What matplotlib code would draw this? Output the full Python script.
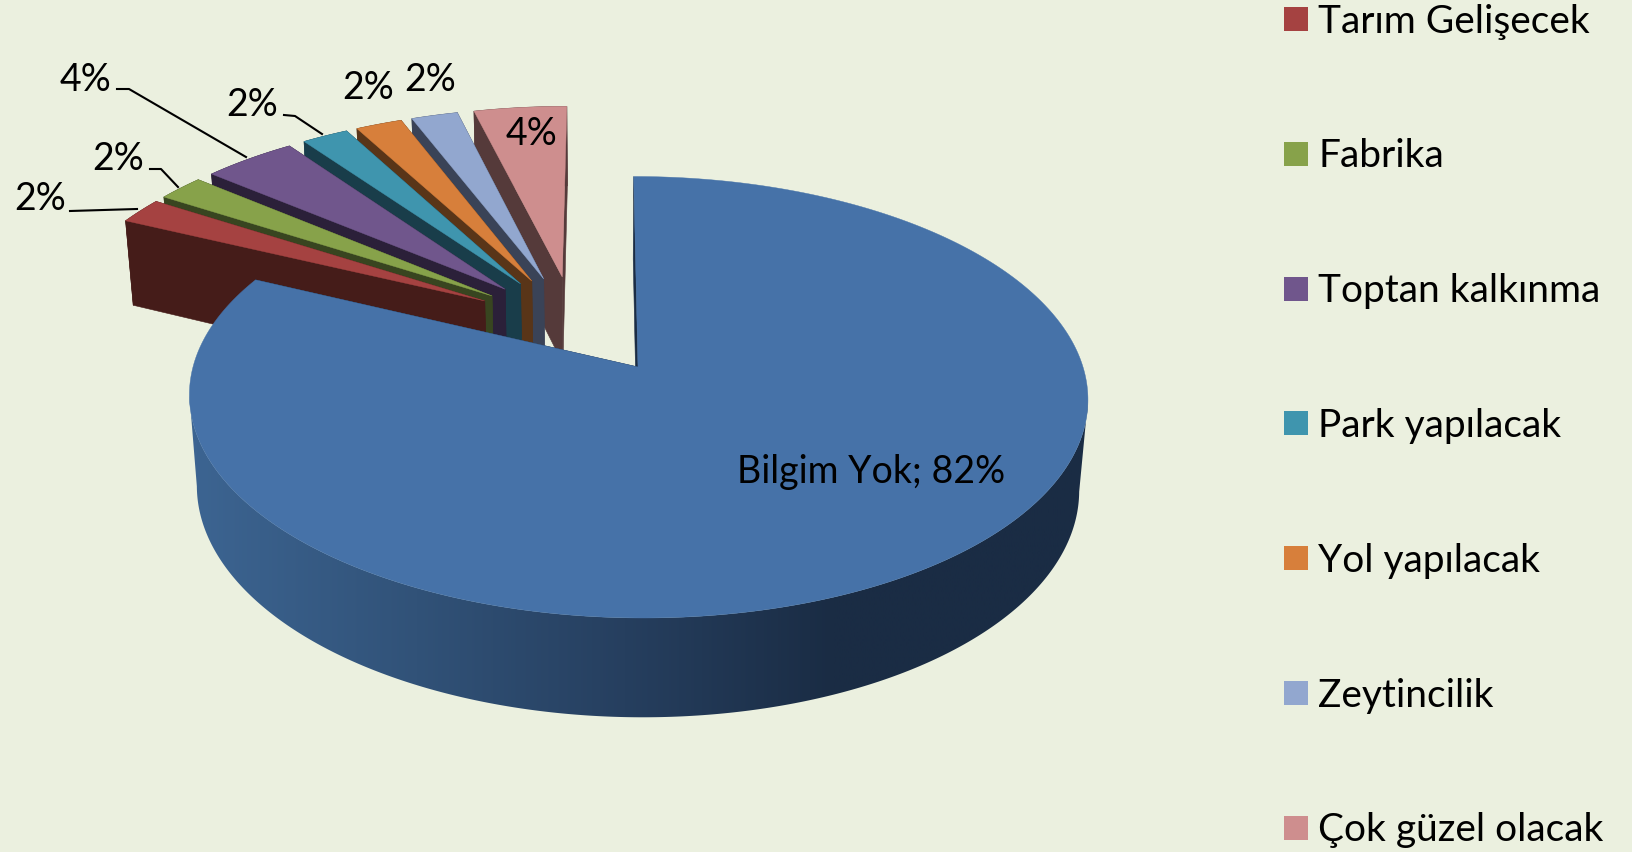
import numpy as np
import matplotlib
matplotlib.use('Agg')
import matplotlib.pyplot as plt
from matplotlib.patches import Rectangle, Polygon

categorias = ['Bilgim Yok', 'Tarım Gelişecek', 'Fabrika', 'Toptan kalkınma', 'Park yapılacak',
              'Yol yapılacak', 'Zeytincilik', 'Çok güzel olacak']
valores = [82, 2, 2, 4, 2, 2, 2, 4]
colores = ['#4672a8', '#a54241', '#87a24a', '#70568c', '#3f95ae', '#d77f3b', '#92a7cf', '#ce8e8e']
colores_pared = ['#1a2c44', '#451c19', '#384520', '#2b2039', '#193d4a', '#593518', '#3a4357', '#553a3a']

fondo = '#ebf0df'
plt.rcParams['font.family'] = ['Lato', 'DejaVu Sans']

# proyeccion en perspectiva: el origen es la punta del sector grande
CX, CY = 638, 367
RX, RY, ALTO, P = 445, 216.6, 92, 0.137
PZ = 0.018  # la base queda mas lejos que la cara superior
X0 = 0.08  # el punto de vista queda a la izquierda de la torta
EXPLOSION = 0.24
AJUSTE_X = -0.017  # los sectores chicos van un poco mas a la izquierda


def proyectar(x, y, z=0.0):
    w = 1 + P * np.asarray(y, dtype=float) + PZ * z
    return CX - X0 * RX + RX * (np.asarray(x) + X0) / w, CY - RY * np.asarray(y) / w + ALTO * z / w


fig = plt.figure(figsize=(16.32, 8.52), dpi=100, facecolor=fondo)
ax = fig.add_axes([0, 0, 1, 1])

fracciones = np.array(valores) / sum(valores)
inicios = np.concatenate([[0], np.cumsum(fracciones)[:-1]]) * 2 * np.pi
fines = np.cumsum(fracciones) * 2 * np.pi
medios = (inicios + fines) / 2

# centro real de la torta, todos los sectores salen de aqui
cx0 = -EXPLOSION * np.sin(medios[0])
cy0 = -EXPLOSION * np.cos(medios[0])

# degradado de la pared del sector grande
gx = np.linspace(180, 1100, 400)
tramos_x = [198, 416, 625, 833, 1083]
degradado = np.dstack([np.interp(gx, tramos_x, [60, 49, 38, 26, 26]),
                       np.interp(gx, tramos_x, [100, 82, 63, 44, 44]),
                       np.interp(gx, tramos_x, [145, 120, 95, 68, 68])]) / 255

orden = [7, 6, 5, 4, 3, 2, 1, 0]  # de atras hacia adelante
capa = 1
for i in orden:
    ox = cx0 + EXPLOSION * np.sin(medios[i])
    oy = cy0 + EXPLOSION * np.cos(medios[i])
    if i > 0:
        ox += AJUSTE_X
    t = np.linspace(inicios[i], fines[i], max(12, int(valores[i] * 6)))
    bx = ox + np.sin(t)
    by = oy + np.cos(t)

    # paredes rectas
    for borde in (t[-1], t[0]):
        xs = [ox, ox + np.sin(borde)]
        ys = [oy, oy + np.cos(borde)]
        a = proyectar(xs, ys, 0)
        b = proyectar(xs[::-1], ys[::-1], 1)
        ax.fill(np.r_[a[0], b[0]], np.r_[a[1], b[1]], color=colores_pared[i], lw=0.4, zorder=capa)
    capa += 1

    # pared curva
    a = proyectar(bx, by, 0)
    if i > 0:
        b = proyectar(bx[::-1], by[::-1], 1)
        ax.fill(np.r_[a[0], b[0]], np.r_[a[1], b[1]], color=colores_pared[i], lw=0.4, zorder=capa)
    else:
        # solo la parte frontal, entre los extremos derecho e izquierdo
        d, e = np.argmax(a[0]), np.argmin(a[0])
        fx, fy = bx[d:e + 1], by[d:e + 1]
        a = proyectar(fx, fy, 0)
        b = proyectar(fx[::-1], fy[::-1], 1)
        forma = Polygon(np.c_[np.r_[a[0], b[0]], np.r_[a[1], b[1]]], closed=True, transform=ax.transData,
                        facecolor='none', edgecolor='none')
        ax.add_patch(forma)
        im = ax.imshow(degradado, extent=(gx[0], gx[-1], 760, 300), aspect='auto', zorder=capa)
        im.set_clip_path(forma)
    capa += 1

    # cara superior
    sx, sy = proyectar(np.r_[ox, bx], np.r_[oy, by], 0)
    ax.fill(sx, sy, color=colores[i], lw=0.3, zorder=capa)
    capa += 1

ax.set_xlim(0, 1632)
ax.set_ylim(852, 0)
ax.axis('off')

# etiquetas de datos
etiquetas_x = [871, 40, 118, 86, 252, 368, 430, 531]
etiquetas_y = [472, 199, 159, 80, 105, 88, 80, 134]
for i in range(len(valores)):
    txt = f'{valores[i]}%' if i > 0 else f'{categorias[0]}; {valores[0]}%'
    ax.text(etiquetas_x[i], etiquetas_y[i], txt, fontsize=27, ha='center', va='center',
            color='black', zorder=capa + 1)

# lineas guia
guias = [([70, 137], [211, 209]),
         ([150, 161, 178], [169, 169, 187]),
         ([117, 129, 246], [89, 89, 157]),
         ([284, 295, 322], [115, 116, 134])]
for lx, ly in guias:
    ax.plot(lx, ly, color='black', lw=1.5, zorder=capa + 1)

# leyenda, la primera entrada queda fuera del recorte
paso = 134.8
for n, nombre in enumerate(categorias[1:]):
    yc = 19 + n * paso
    ax.add_patch(Rectangle((1284, yc - 12), 24, 24, facecolor=colores[n + 1], edgecolor='none', zorder=capa))
    ax.text(1318, yc + 2.5, nombre, fontsize=28, ha='left', va='center', color='black', zorder=capa)

fig.savefig('out.png', dpi=100, facecolor=fondo)
